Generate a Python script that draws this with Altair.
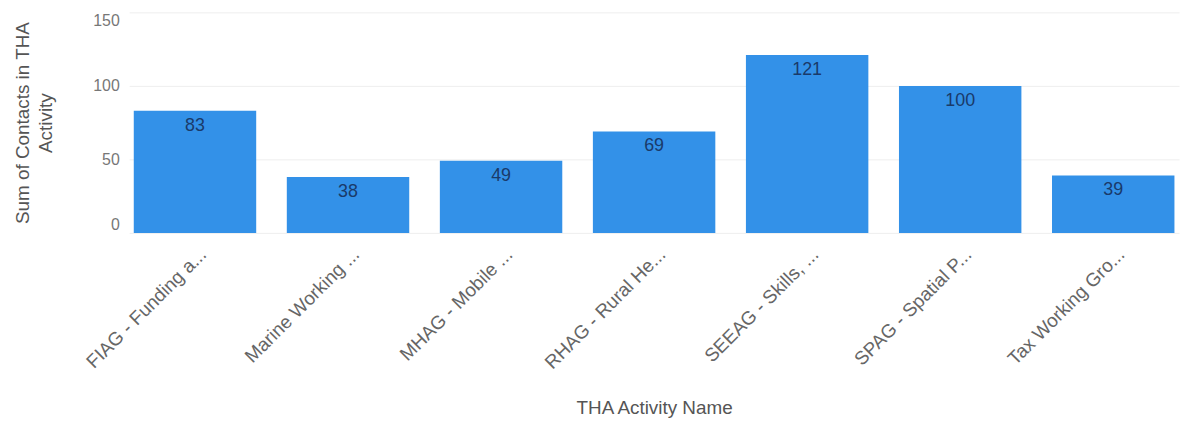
import altair as alt
import pandas as pd

categories = [
    "FIAG - Funding a...",
    "Marine Working ...",
    "MHAG - Mobile ...",
    "RHAG - Rural He...",
    "SEEAG - Skills, ...",
    "SPAG - Spatial P...",
    "Tax Working Gro...",
]
contacts = [83, 38, 49, 69, 121, 100, 39]
y_ticks = [0, 50, 100, 150]

df = pd.DataFrame({"name": categories, "value": contacts})

FONT = "Liberation Sans"

base = alt.Chart(df).encode(
    x=alt.X(
        "name:N",
        sort=categories,
        scale=alt.Scale(paddingInner=0.2, paddingOuter=0.03),
        axis=alt.Axis(
            title="THA Activity Name",
            labelAngle=-45,
            labelFontSize=19,
            labelColor="#666666",
            labelFont=FONT,
            labelPadding=12,
            labelOffset=2,
            ticks=False,
            domain=False,
            titleFontSize=19,
            titleFontWeight="normal",
            titleColor="#555555",
            titleFont=FONT,
            titlePadding=26,
            labelLimit=300,
        ),
    ),
    y=alt.Y(
        "value:Q",
        scale=alt.Scale(domain=[0, 150], nice=False),
        axis=alt.Axis(
            title=["Sum of Contacts in THA", "Activity"],
            values=y_ticks,
            labelFontSize=16,
            labelColor="#777777",
            labelFont=FONT,
            labelPadding=10,
            labelFlush=True,
            ticks=False,
            domain=False,
            gridColor="#EEEEEE",
            titleFontSize=19,
            titleFontWeight="normal",
            titleColor="#555555",
            titleFont=FONT,
            titlePadding=38,
            titleLineHeight=23,
        ),
    ),
)

bars = base.mark_bar(color="#3391E8")
labels = base.mark_text(
    baseline="top", dy=6, fontSize=18, color="#1A3A6A", font=FONT
).encode(text="value:Q")

chart = (
    (bars + labels)
    .properties(
        width=1057,
        height=222,
        autosize=alt.AutoSizeParams(type="none"),
        padding={"left": 122, "top": 3, "right": 5, "bottom": 190},
    )
    .configure_view(stroke=None)
)

chart.save("out.html", embed_options={"renderer": "svg", "actions": False})
